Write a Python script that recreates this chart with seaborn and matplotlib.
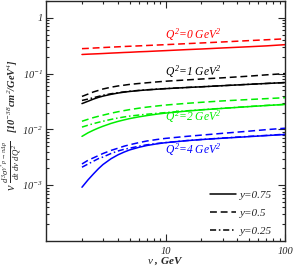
import numpy as np
import pandas as pd
import matplotlib
matplotlib.use("Agg")
import matplotlib.pyplot as plt
from matplotlib.lines import Line2D
from matplotlib.ticker import LogLocator, NullFormatter, FixedLocator, FixedFormatter
import seaborn as sns

nu = [2, 2.25, 2.5, 2.75, 3, 3.5, 4, 4.5, 5, 6, 7, 8.5, 10, 15, 20, 30, 50, 70, 100]

q0_y075 = [0.220, 0.223, 0.225, 0.227, 0.229, 0.233, 0.236, 0.239, 0.241, 0.246, 0.249, 0.254, 0.258,
           0.269, 0.276, 0.288, 0.303, 0.314, 0.33]
q0_y05 = [0.28, 0.283, 0.287, 0.29, 0.293, 0.298, 0.302, 0.306, 0.309, 0.314, 0.319, 0.325, 0.33,
          0.344, 0.354, 0.369, 0.39, 0.404, 0.42]

q1_y075 = [0.029, 0.032, 0.035, 0.0375, 0.0395, 0.0425, 0.0448, 0.0465, 0.0478, 0.0497, 0.051, 0.0525,
           0.0537, 0.0563, 0.058, 0.0607, 0.0642, 0.0665, 0.069]
q1_y05 = [0.039, 0.043, 0.047, 0.050, 0.053, 0.057, 0.060, 0.062, 0.064, 0.0665, 0.0685, 0.071, 0.073,
          0.077, 0.080, 0.084, 0.090, 0.095, 0.10]
q1_y025 = [0.033, 0.035, 0.037, 0.039, 0.041, 0.0435, 0.0455, 0.047, 0.0483, 0.050, 0.0513, 0.0527,
           0.0539, 0.0564, 0.0581, 0.0608, 0.0643, 0.0666, 0.0691]

q2_y075 = [0.0075, 0.0087, 0.0097, 0.0106, 0.0114, 0.0128, 0.0139, 0.0148, 0.0156, 0.0168, 0.0177,
           0.0188, 0.0196, 0.0213, 0.0224, 0.0238, 0.0256, 0.0268, 0.028]
q2_y05 = [0.014, 0.0152, 0.0163, 0.0172, 0.018, 0.0195, 0.0207, 0.0217, 0.0226, 0.024, 0.0251, 0.0263,
          0.0273, 0.0293, 0.0306, 0.0324, 0.0343, 0.0356, 0.037]
q2_y025 = [0.011, 0.0119, 0.0127, 0.0134, 0.014, 0.0151, 0.016, 0.0167, 0.0173, 0.0181, 0.0187, 0.0194,
           0.020, 0.0215, 0.0225, 0.0239, 0.0257, 0.0269, 0.0281]

q4_y075 = [0.00092, 0.00125, 0.0016, 0.00198, 0.00235, 0.00298, 0.0035, 0.00392, 0.00428, 0.00478,
           0.00515, 0.00552, 0.00578, 0.00628, 0.00658, 0.00695, 0.00742, 0.00775, 0.0081]
q4_y05 = [0.0024, 0.0028, 0.0031, 0.0034, 0.0037, 0.0042, 0.0046, 0.0050, 0.0053, 0.0058, 0.0062,
          0.0066, 0.0069, 0.0075, 0.0079, 0.0085, 0.0093, 0.0099, 0.0105]
q4_y025 = [0.0021, 0.0024, 0.0027, 0.0030, 0.0032, 0.0037, 0.0041, 0.0044, 0.0046, 0.0050, 0.0053,
           0.0056, 0.0058, 0.0063, 0.0066, 0.0070, 0.0075, 0.0078, 0.0082]

q_labels = [r"$Q^2$=0 GeV$^2$", r"$Q^2$=1 GeV$^2$", r"$Q^2$=2 GeV$^2$", r"$Q^2$=4 GeV$^2$"]
y_labels = ["y=0.75", "y=0.5", "y=0.25"]

sns.set_style("ticks")
plt.rcParams["font.family"] = ["Liberation Serif", "DejaVu Serif"]
plt.rcParams["mathtext.fontset"] = "custom"
plt.rcParams["mathtext.rm"] = "Liberation Serif:italic"
plt.rcParams["mathtext.it"] = "Liberation Serif:italic"
plt.rcParams["mathtext.bf"] = "Liberation Serif:bold:italic"

fig = plt.figure(figsize=(2.96, 2.70), dpi=100)
ax = fig.add_axes([46/296, 1 - 241/270, (285-46)/296, 240/270])

red, black, green, blue = "#ff0000", "#000000", "#00ee00", "#0000ff"
ls_solid = "-"
ls_dash = (0, (4.5, 2.5))
ls_dd = (0, (4, 1.8, 1, 1.8))

series = [
    (q0_y075, red, ls_solid), (q0_y05, red, ls_dash),
    (q1_y075, black, ls_solid), (q1_y05, black, ls_dash), (q1_y025, black, ls_dd),
    (q2_y075, green, ls_solid), (q2_y05, green, ls_dash), (q2_y025, green, ls_dd),
    (q4_y075, blue, ls_solid), (q4_y05, blue, ls_dash), (q4_y025, blue, ls_dd),
]
for vals, c, ls in series:
    sns.lineplot(x=nu, y=vals, color=c, linestyle=ls, linewidth=1.1, ax=ax, legend=False)

ax.set_xscale("log")
ax.set_yscale("log")
ax.set_xlim(1, 100)
ax.set_ylim(1e-4, 2.0)

ax.xaxis.set_major_locator(FixedLocator([10, 100]))
ax.xaxis.set_major_formatter(FixedFormatter(["10", "100"]))
ax.xaxis.set_minor_locator(LogLocator(base=10, subs=np.arange(2, 10)))
ax.xaxis.set_minor_formatter(NullFormatter())
ax.yaxis.set_major_locator(FixedLocator([1e-3, 1e-2, 1e-1, 1]))
ax.yaxis.set_major_formatter(FixedFormatter([r"10$^{-3}$", r"10$^{-2}$", r"10$^{-1}$", "1"]))
ax.yaxis.set_minor_locator(LogLocator(base=10, subs=np.arange(2, 10)))
ax.yaxis.set_minor_formatter(NullFormatter())
ax.tick_params(which="both", direction="in", top=True, right=True, width=0.8)
ax.tick_params(which="major", length=5)
ax.tick_params(which="minor", length=2.5)
for lab in ax.get_xticklabels() + ax.get_yticklabels():
    lab.set_fontfamily("Liberation Serif")
    lab.set_fontstyle("italic")
    lab.set_fontsize(7.5)
ax.tick_params(axis="y", pad=2)
ax.tick_params(axis="x", pad=4)
for s in ax.spines.values():
    s.set_linewidth(1.0)

ax.set_xlabel(r"$\nu$ , GeV", fontsize=8, fontweight="bold", fontstyle="italic", labelpad=0)
fig.text(13/296, 1 - 96/270, r"[10$^{-38}$cm$^2$/GeV$^4$]",
         rotation=90, ha="center", va="center", fontsize=7.5, fontweight="bold", fontstyle="italic")
fig.text(12/296, 1 - 166/270,
         r"$\nu\ \frac{d^3\sigma^{\gamma^* p\to\pi\Delta p}}{dt\ d\nu\ dQ^2}$",
         rotation=90, ha="center", va="center", fontsize=9, fontweight="bold", fontstyle="italic")

ann = dict(fontsize=8.3, fontstyle="italic", ha="center", va="center")
def place(px, py, s, c):
    ax.annotate(s, xy=(px, 270 - py), xycoords="figure pixels", color=c, **ann)
place(193, 35, q_labels[0], red)
place(193, 72, q_labels[1], black)
place(193, 117, q_labels[2], green)
place(193, 150, q_labels[3], blue)

handles = [Line2D([], [], color="black", linestyle=ls, linewidth=1.1) for ls in (ls_solid, ls_dash, ls_dd)]
leg = ax.legend(handles, y_labels, loc="lower right", bbox_to_anchor=(0.98, -0.013), frameon=False,
                handlelength=2.35, handletextpad=0.35, labelspacing=0.75, borderaxespad=0.3,
                prop=dict(family="Liberation Serif", style="italic", size=8))

fig.savefig("out.png", dpi=100)
